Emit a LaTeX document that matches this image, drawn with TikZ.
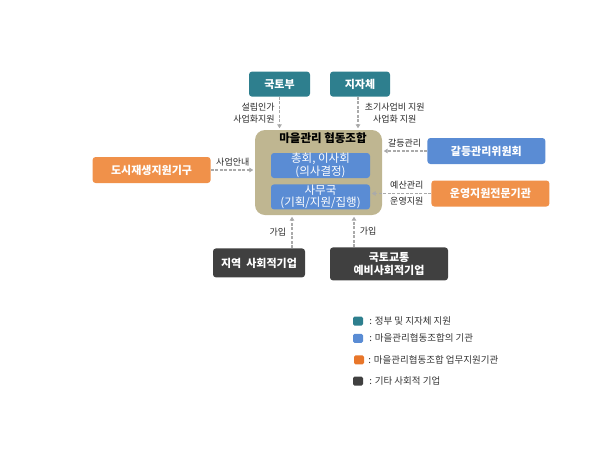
\documentclass[tikz,border=0pt]{standalone}
\usepackage{fontspec}
\setmainfont{Noto Sans CJK KR}
\usetikzlibrary{arrows.meta, positioning}

\definecolor{govteal}{RGB}{46,127,142}
\definecolor{unionblue}{RGB}{90,140,212}
\definecolor{helporange}{RGB}{240,145,74}
\definecolor{keyorange}{RGB}{232,118,42}
\definecolor{sedark}{RGB}{64,64,64}
\definecolor{cooptan}{RGB}{191,182,145}
\definecolor{linkgray}{RGB}{170,170,170}

\begin{document}
\begin{tikzpicture}[x=1pt, y=-1pt,
    orgbox/.style={rectangle, rounded corners=3pt, text=white, align=center,
      font=\bfseries\fontsize{11}{13}\selectfont, inner sep=0pt},
    gov/.style={orgbox, fill=govteal, minimum width=61pt, minimum height=25pt},
    member/.style={orgbox, fill=unionblue, minimum width=118pt, minimum height=26pt},
    partner/.style={orgbox, fill=helporange, minimum width=118pt, minimum height=26pt},
    social/.style={orgbox, fill=sedark, minimum height=29pt},
    inbox/.style={orgbox, fill=unionblue, font=\fontsize{11.5}{12.5}\selectfont,
      minimum width=99pt, minimum height=25pt},
    link/.style={-{Triangle[length=4pt, width=4.5pt]}, line width=1.6pt, linkgray,
      dash pattern=on 3pt off 1.5pt, shorten >=1.5pt},
    tag/.style={font=\fontsize{9}{12.5}\selectfont, text=black!85, inner sep=1pt, align=center},
    keybox/.style={rectangle, rounded corners=1.5pt, minimum width=10pt, minimum height=9pt, inner sep=0pt},
    keytext/.style={font=\fontsize{9.5}{11}\selectfont, text=black!80, inner sep=0pt, anchor=west}
  ]
    \useasboundingbox (0,0) rectangle (600,451);

    % cooperative
    \node[rectangle, rounded corners=10pt, fill=cooptan, minimum width=127pt,
      minimum height=85pt] (coop) at (318.5,172.5) {};
    \node[below=3pt of coop.north, xshift=4.5pt, inner sep=0pt,
      font=\bfseries\fontsize{11.5}{13}\selectfont] (cooptitle) {마을관리\ 협동조합};
    \node[inbox, below=23pt of coop.north, xshift=2pt] (board) {총회, 이사회\\(의사결정)};
    \node[inbox, below=6pt of board] (office) {사무국\\(기획/지원/집행)};

    % outer bodies
    \node[gov, above=33pt of coop.north, xshift=-39pt] (molit) {국토부};
    \node[gov, minimum width=60pt, above=33pt of coop.north, xshift=41.5pt] (localgov) {지자체};
    \node[partner, left=44pt of coop.west, yshift=2.5pt] (urban) {도시재생지원기구};
    \node[member, right=45pt of coop.east, yshift=21.5pt] (conflict) {갈등관리위원회};
    \node[partner, right=49pt of coop.east, yshift=-21pt] (support) {운영지원전문기관};
    \node[social, minimum width=92pt, below=33pt of coop.south, xshift=-59.5pt] (localse) {지역\ \ 사회적기업};
    \node[social, minimum width=118pt, minimum height=33pt, below=32pt of coop.south,
      xshift=70.5pt, font=\bfseries\fontsize{11}{12.5}\selectfont] (prese) {국토교통\\예비사회적기업};

    % connectors
    \draw[link] (molit.south) -- (molit.south |- coop.north)
      node[tag, midway, left=3pt, align=right] {설립인가\\사업화지원};
    \draw[link] ([xshift=-2pt]localgov.south) -- ([xshift=-2pt]localgov.south |- coop.north)
      node[tag, midway, right=5pt] {초기사업비 지원\\사업화 지원};
    \draw[link] (urban.east) -- (urban.east -| coop.west)
      node[tag, midway, above=2pt] {사업안내};
    \draw[link] (conflict.west) -- (conflict.west -| coop.east)
      node[tag, midway, above=2pt] {갈등관리};
    \draw[link] (support.west) -- (support.west -| office.east)
      node[tag, pos=0.4, above=2pt] {예산관리}
      node[tag, pos=0.4, below=2pt] {운영지원};
    \draw[link] ([xshift=33pt]localse.north) -- ([xshift=33pt]localse.north |- coop.south)
      node[tag, midway, left=4pt] {가입};
    \draw[link] ([xshift=-35pt]prese.north) -- ([xshift=-35pt]prese.north |- coop.south)
      node[tag, midway, right=4pt] {가입};

    % legend
    \node[keybox, fill=govteal] (keygov) at (358,321) {};
    \node[keybox, fill=unionblue, below=8pt of keygov] (keyunion) {};
    \node[keybox, fill=keyorange, below=12pt of keyunion, xshift=1pt] (keyhelp) {};
    \node[keybox, fill=sedark, below=12pt of keyhelp, xshift=-1pt] (keyse) {};
    \node[keytext, right=6pt of keygov] (txtgov) {: 정부 및 지자체 지원};
    \node[keytext, right=6pt of keyunion] (txtunion) {: 마을관리협동조합의 기관};
    \node[keytext, right=4pt of keyhelp] (txthelp) {: 마을관리협동조합 업무지원기관};
    \node[keytext, right=6pt of keyse] (txtse) {: 기타 사회적 기업};
\end{tikzpicture}
\end{document}
